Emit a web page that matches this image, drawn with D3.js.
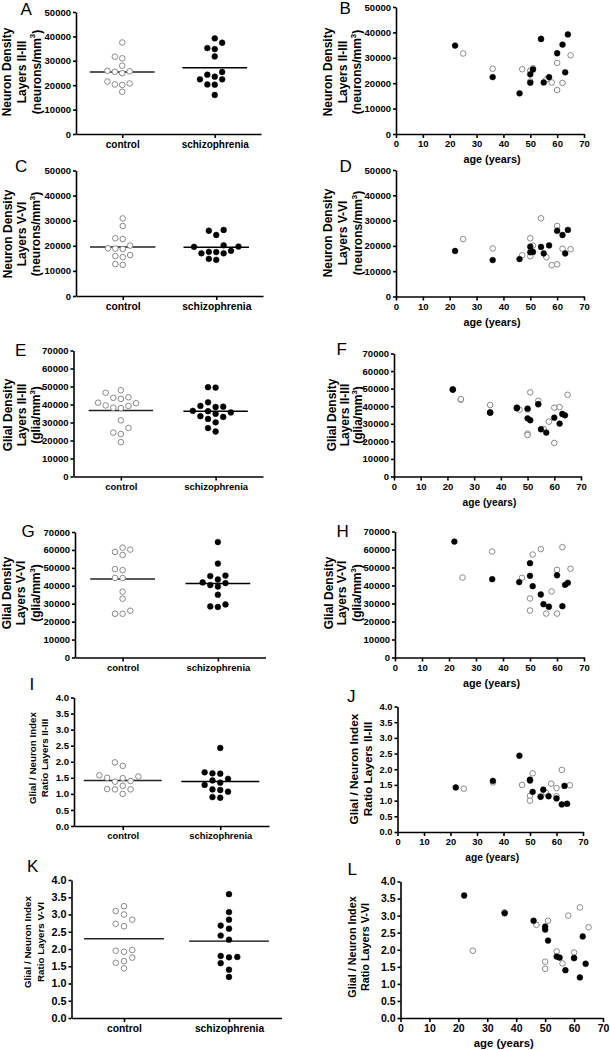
<!DOCTYPE html>
<html><head><meta charset="utf-8">
<script src="https://cdn.jsdelivr.net/npm/d3@7"></script>
<style>body{margin:0;background:#fff}</style>
</head><body><svg id="c" width="610" height="1050"></svg>
<script>
// ---------- data ----------
const categories = ["control", "schizophrenia"];
const ageTicks = [0, 10, 20, 30, 40, 50, 60, 70];
const ticks50k = [0, 10000, 20000, 30000, 40000, 50000];
const ticks70k = [0, 10000, 20000, 30000, 40000, 50000, 60000, 70000];
const ratioTicks = [0, 0.5, 1.0, 1.5, 2.0, 2.5, 3.0, 3.5, 4.0];

const controlAges = [25, 36, 47, 50, 50, 51, 54, 56, 58, 60, 60, 62, 65];
const schizoAges  = [22, 36, 46, 50, 50, 51, 54, 55, 57, 60, 62, 63, 64];

const neuronII_control = [31700, 25700, 25500, 24900, 20700, 25900, 37500, 21500, 20300, 28000, 17300, 20100, 31000];
const neuronII_schizo  = [34800, 22400, 16000, 23500, 20200, 25400, 37400, 20300, 22400, 31800, 35200, 24300, 39200];

const neuronV_control = [22700, 19000, 16300, 23000, 15900, 20100, 30900, 15500, 12400, 27900, 12700, 18900, 18700];
const neuronV_schizo  = [18000, 14400, 14800, 19700, 17500, 17600, 19600, 17000, 20200, 26000, 24300, 17000, 26300];

const glialII_controlAges = [25, 36, 47, 50, 50, 51, 54, 56, 58, 60, 60, 62, 65, 25, 50, 54];
const glialII_control = [43700, 40700, 38000, 24400, 23600, 47900, 43100, 27000, 31200, 39200, 19100, 39500, 46500, 44000, 38200, 41000];
const glialII_schizoAges = [22, 36, 46, 50, 50, 51, 54, 55, 57, 60, 62, 63, 64, 22, 46, 36];
const glialII_schizo = [49400, 36300, 38800, 38600, 33100, 32000, 41200, 26900, 25000, 33500, 30100, 35600, 34800, 49600, 39200, 36500];

const glialV_control = [44400, 58900, 44300, 32800, 26100, 57200, 60200, 24400, 36700, 48700, 24400, 61300, 49300];
const glialV_schizo  = [64400, 43500, 41900, 52400, 45400, 39600, 35000, 29600, 28200, 45700, 28500, 40400, 41500];

const ratioII_control = [1.38, 1.58, 1.50, 1.15, 1.00, 1.87, 1.14, 1.25, 1.54, 1.40, 1.14, 1.98, 1.49];
const ratioII_schizo  = [1.42, 1.63, 2.43, 1.67, 1.64, 1.28, 1.12, 1.35, 1.14, 1.07, 0.88, 1.47, 0.90];

const ratioV_control = [1.97, 3.10, 2.73, 1.65, 1.44, 2.85, 1.95, 1.60, 3.00, 1.92, 1.75, 3.24, 2.66];
const ratioV_schizo  = [3.59, 3.07, 2.85, 2.68, 2.59, 2.27, 1.80, 1.77, 1.40, 1.76, 1.19, 2.39, 1.59];

const titleNeuronII = ["Neuron Density", "Layers II-III", "(neurons/mm^3)"];
const titleNeuronV  = ["Neuron Density", "Layers V-VI", "(neurons/mm^3)"];
const titleGlialII  = ["Glial Density", "Layers II-III", "(glia/mm^3)"];
const titleGlialV   = ["Glial Density", "Layers V-VI", "(glia/mm^3)"];
const titleRatioII  = ["Glial / Neuron Index", "Ratio Layers II-III"];
const titleRatioV   = ["Glial / Neuron Index", "Ratio Layers V-VI"];
const ageLabel = "age (years)";

// ---------- rendering ----------
const FONT = "'Liberation Sans', Arial, Helvetica, sans-serif";
const svg = d3.select("#c");
const fmtInt = d3.format("d"), fmt1 = d3.format(".1f");
const OPEN = "#8a8a8a";

const panels = [
  {type:"dot", letter:"A", L:[20.5,14.5], b:{x0:76,x1:261,yT:12,yB:134}, max:50000, ticks:ticks50k, fmt:fmtInt, c:neuronII_control, s:neuronII_schizo, title:titleNeuronII, tx:[10.5,26,40.5], ty:72, tfs:12, kfs:9.5, cfs:10, lw:0.7, sp:7.4},
  {type:"age", letter:"B", L:[339.5,13.5], b:{x0:396,x1:584,yT:7,yB:134}, max:50000, ticks:ticks50k, fmt:fmtInt, ca:controlAges, c:neuronII_control, sa:schizoAges, s:neuronII_schizo, title:titleNeuronII, tx:[332,347,361], ty:72, tfs:12, kfs:9.5, afs:10.8},
  {type:"dot", letter:"C", L:[15,172], b:{x0:76,x1:263,yT:170.5,yB:296}, max:50000, ticks:ticks50k, fmt:fmtInt, c:neuronV_control, s:neuronV_schizo, title:titleNeuronV, tx:[12,25.5,40], ty:234, tfs:12, kfs:9.5, cfs:10.3, lw:0.7, sp:7.4},
  {type:"age", letter:"D", L:[339.5,172], b:{x0:396,x1:584,yT:170,yB:296.5}, max:50000, ticks:ticks50k, fmt:fmtInt, ca:controlAges, c:neuronV_control, sa:schizoAges, s:neuronV_schizo, title:titleNeuronV, tx:[332,347,362], ty:233, tfs:12, kfs:9.5, afs:10.8},
  {type:"dot", letter:"E", L:[15,355.5], b:{x0:73.5,x1:263,yT:350.5,yB:476.5}, max:70000, ticks:ticks70k, fmt:fmtInt, c:glialII_control, s:glialII_schizo, title:titleGlialII, tx:[12,26,40], ty:415, tfs:12, kfs:9.5, cfs:9.5, lw:0.68, sp:7.6},
  {type:"age", letter:"F", L:[336.5,355], b:{x0:394,x1:581,yT:353.5,yB:476.5}, max:70000, ticks:ticks70k, fmt:fmtInt, ca:glialII_controlAges, c:glialII_control, sa:glialII_schizoAges, s:glialII_schizo, title:titleGlialII, tx:[336,349,362], ty:415, tfs:12, kfs:9.5, afs:10.2},
  {type:"dot", letter:"G", L:[21.5,537], b:{x0:75,x1:265.5,yT:532,yB:657.5}, max:70000, ticks:ticks70k, fmt:fmtInt, c:glialV_control, s:glialV_schizo, title:titleGlialV, tx:[11,25,40], ty:593, tfs:12, kfs:9.5, cfs:9.5, lw:0.68, sp:7.6},
  {type:"age", letter:"H", L:[336.5,536.7], b:{x0:395,x1:584,yT:531.5,yB:657.5}, max:70000, ticks:ticks70k, fmt:fmtInt, ca:controlAges, c:glialV_control, sa:schizoAges, s:glialV_schizo, title:titleGlialV, tx:[333,346,361], ty:593, tfs:12, kfs:9.5, afs:10.8},
  {type:"dot", letter:"I", L:[29.5,690], b:{x0:74,x1:269,yT:697.5,yB:826}, max:4, ticks:ratioTicks, fmt:fmt1, c:ratioII_control, s:ratioII_schizo, title:titleRatioII, tx:[35.5,48], ty:758, tfs:9.8, kfs:9.6, cfs:9.4, lw:0.8, sp:7.8},
  {type:"age", letter:"J", L:[347,701.5], b:{x0:397.5,x1:583,yT:706.5,yB:832}, max:4, ticks:ratioTicks, fmt:fmt1, ca:controlAges, c:ratioII_control, sa:schizoAges, s:ratioII_schizo, title:titleRatioII, tx:[358,371.5], ty:769, tfs:11.8, kfs:9.3, afs:10.2},
  {type:"dot", letter:"K", L:[27,872], b:{x0:71.5,x1:281.5,yT:880,yB:1018}, max:4, ticks:ratioTicks, fmt:fmt1, c:ratioV_control, s:ratioV_schizo, title:titleRatioV, tx:[31,43.5], ty:942, tfs:9.8, kfs:10.8, cfs:10.3, lw:0.76, sp:8.3},
  {type:"age", letter:"L", L:[347.5,875], b:{x0:400.5,x1:603,yT:881.5,yB:1018}, max:4, ticks:ratioTicks, fmt:fmt1, ca:controlAges, c:ratioV_control, sa:schizoAges, s:ratioV_schizo, title:titleRatioV, tx:[356,368.5], ty:947, tfs:10.8, kfs:10.5, afs:11.4}
];

function styleAxis(g, fs) {
  g.select(".domain").attr("stroke", "#000").attr("stroke-width", 1.6);
  g.selectAll(".tick line").attr("stroke", "#000").attr("stroke-width", 1.6);
  g.selectAll(".tick text").attr("font-family", FONT).attr("font-weight", "bold")
    .attr("font-size", fs).attr("fill", "#000");
}

function swarm(vals, y, cx, sp, th) {
  const idx = d3.range(vals.length).sort((a, b) => vals[a] - vals[b]);
  const placed = [], out = new Array(vals.length);
  const order = [0, -1, 1, -2, 2, -3, 3, -4, 4];
  idx.forEach(i => {
    const py = y(vals[i]);
    for (const k of order) {
      if (!placed.some(p => p.k === k && Math.abs(p.y - py) < th)) {
        placed.push({k, y: py});
        out[i] = {x: cx + k * sp, y: py};
        break;
      }
    }
  });
  return out;
}

function drawTitle(p) {
  p.title.forEach((line, i) => {
    const t = svg.append("text")
      .attr("transform", `translate(${p.tx[i]},${p.ty}) rotate(-90)`)
      .attr("text-anchor", "middle")
      .attr("font-family", FONT).attr("font-weight", "bold")
      .attr("font-size", p.tfs).attr("fill", "#000");
    const parts = line.split("^");
    t.append("tspan").text(parts[0]);
    if (parts.length > 1) {
      const m = parts[1].match(/^(\d)(.*)$/);
      t.append("tspan").attr("font-size", p.tfs * 0.65).attr("dy", -p.tfs * 0.42).text(m[1]);
      t.append("tspan").attr("dy", p.tfs * 0.42).text(m[2]);
    }
  });
}

panels.forEach(p => {
  const b = p.b;
  const y = d3.scaleLinear().domain([0, p.max]).range([b.yB, b.yT]);

  svg.append("text").attr("x", p.L[0]).attr("y", p.L[1])
    .attr("font-family", FONT).attr("font-size", 17).attr("fill", "#000").text(p.letter);

  drawTitle(p);

  const gy = svg.append("g").attr("transform", `translate(${b.x0},0)`)
    .call(d3.axisLeft(y).tickValues(p.ticks).tickFormat(p.fmt).tickSize(3).tickSizeOuter(0).tickPadding(2));
  styleAxis(gy, p.kfs);

  if (p.type === "dot") {
    const x = d3.scalePoint().domain(categories).range([b.x0, b.x1]).padding(0.5);
    const gx = svg.append("g").attr("transform", `translate(0,${b.yB})`)
      .call(d3.axisBottom(x).tickSize(4).tickSizeOuter(0).tickPadding(2.5));
    styleAxis(gx, p.cfs);
    const step = x.step();
    const groups = [{vals: p.c, cat: categories[0], open: true}, {vals: p.s, cat: categories[1], open: false}];
    groups.forEach(gr => {
      const cx = x(gr.cat);
      const pts = swarm(gr.vals, y, cx, p.sp, 6.8);
      const m = d3.mean(gr.vals);
      svg.append("line").attr("x1", cx - step * p.lw / 2).attr("x2", cx + step * p.lw / 2)
        .attr("y1", y(m)).attr("y2", y(m)).attr("stroke", gr.open ? "#222" : "#000").attr("stroke-width", 1.4);
      svg.append("g").selectAll("circle").data(pts).join("circle")
        .attr("cx", d => d.x).attr("cy", d => d.y).attr("r", gr.open ? 2.8 : 2.9)
        .attr("fill", gr.open ? "#fff" : "#000")
        .attr("stroke", gr.open ? OPEN : "#000").attr("stroke-width", gr.open ? 1 : 0.5);
    });
  } else {
    const x = d3.scaleLinear().domain([0, 70]).range([b.x0, b.x1]);
    const gx = svg.append("g").attr("transform", `translate(0,${b.yB})`)
      .call(d3.axisBottom(x).tickValues(ageTicks).tickFormat(fmtInt).tickSize(4).tickSizeOuter(0).tickPadding(2.5));
    styleAxis(gx, p.kfs);
    svg.append("text").attr("x", (b.x0 + b.x1) / 2 + 2).attr("y", b.yB + 29)
      .attr("text-anchor", "middle").attr("font-family", FONT).attr("font-weight", "bold")
      .attr("font-size", p.afs).attr("fill", "#000").text(ageLabel);
    svg.append("g").selectAll("circle").data(p.c.map((v, i) => ({a: p.ca[i], v}))).join("circle")
      .attr("cx", d => x(d.a)).attr("cy", d => y(d.v)).attr("r", 2.8)
      .attr("fill", "#fff").attr("stroke", OPEN).attr("stroke-width", 1);
    svg.append("g").selectAll("circle").data(p.s.map((v, i) => ({a: p.sa[i], v}))).join("circle")
      .attr("cx", d => x(d.a)).attr("cy", d => y(d.v)).attr("r", 2.9)
      .attr("fill", "#000").attr("stroke", "#000").attr("stroke-width", 0.5);
  }
});
</script>
</body></html>
